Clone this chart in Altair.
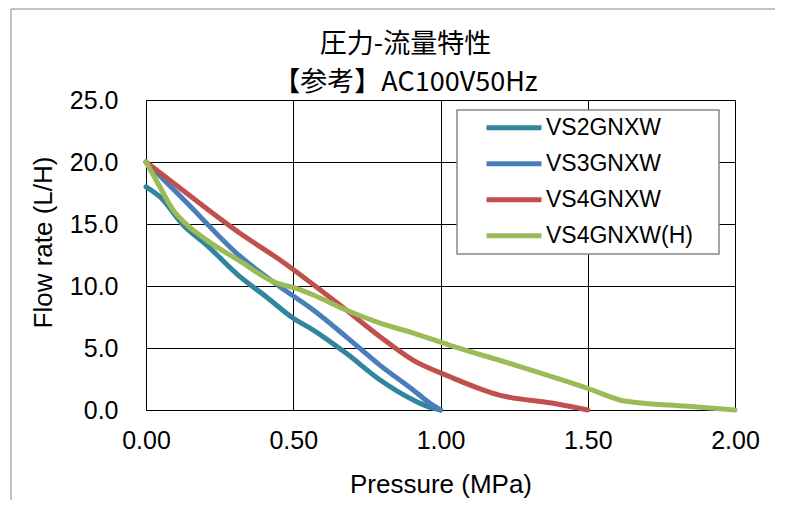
import altair as alt
import pandas as pd

series = ["VS2GNXW", "VS3GNXW", "VS4GNXW", "VS4GNXW(H)"]
colors = ["#31859C", "#4A7EBB", "#C0504D", "#9BBB59"]

vs2_p = [0.00, 0.047, 0.127, 0.206, 0.319, 0.41, 0.50, 0.568, 0.68, 0.795, 0.908, 0.96, 1.00]
vs2_f = [18.0, 17.2, 14.9, 13.3, 10.75, 9.1, 7.4, 6.45, 4.57, 2.42, 0.8, 0.25, 0.0]
vs3_p = [0.00, 0.127, 0.319, 0.455, 0.568, 0.68, 0.795, 0.908, 0.964, 1.00]
vs3_f = [20.0, 17.0, 12.4, 9.94, 8.06, 5.9, 3.6, 1.6, 0.54, 0.0]
vs4_p = [0.00, 0.093, 0.319, 0.455, 0.68, 0.795, 0.908, 1.03, 1.20, 1.383, 1.50]
vs4_f = [20.0, 18.3, 14.25, 12.1, 8.06, 5.9, 4.0, 2.7, 1.2, 0.54, 0.0]
vs4h_p = [0.00, 0.047, 0.093, 0.127, 0.206, 0.319, 0.432, 0.51, 0.568, 0.68, 0.795, 0.908, 1.03, 1.27, 1.50, 1.63, 1.84, 2.00]
vs4h_f = [20.0, 18.0, 16.1, 15.2, 13.7, 12.0, 10.35, 9.8, 9.27, 8.06, 7.0, 6.2, 5.24, 3.5, 1.75, 0.7, 0.3, 0.0]

x_ticks = [0.0, 0.5, 1.0, 1.5, 2.0]
y_ticks = [0.0, 5.0, 10.0, 15.0, 20.0, 25.0]

rows = []
for name, ps, fs in zip(series, [vs2_p, vs3_p, vs4_p, vs4h_p], [vs2_f, vs3_f, vs4_f, vs4h_f]):
    for i, (p, f) in enumerate(zip(ps, fs)):
        rows.append({"series": name, "pressure": p, "flow": f, "order": i})
df = pd.DataFrame(rows)

FONT = "Liberation Sans"

lines = alt.Chart(df).mark_line(strokeWidth=5, interpolate="monotone", strokeCap="round").encode(
    x=alt.X("pressure:Q", scale=alt.Scale(domain=[0, 2], nice=False),
            axis=alt.Axis(values=x_ticks, format=".2f", title="Pressure (MPa)",
                          labelFontSize=25, titleFontSize=26, labelFont=FONT, titleFont=FONT,
                          labelColor="#000", titleColor="#000", titleFontWeight="normal",
                          ticks=False, labelPadding=18, titlePadding=18, labelFlush=False,
                          gridColor="#000", gridOpacity=1, domainColor="#000")),
    y=alt.Y("flow:Q", scale=alt.Scale(domain=[0, 25], nice=False),
            axis=alt.Axis(values=y_ticks, format=".1f", title="Flow rate (L/H)",
                          labelFontSize=25, titleFontSize=26, labelFont=FONT, titleFont=FONT,
                          labelColor="#000", titleColor="#000", titleFontWeight="normal",
                          ticks=False, labelPadding=28, titlePadding=13, labelFlush=False,
                          titleY=142,
                          gridColor="#000", gridOpacity=1, domainColor="#000")),
    color=alt.Color("series:N", scale=alt.Scale(domain=series, range=colors),
                    legend=alt.Legend(title=None, orient="none", legendX=338, legendY=10,
                                      symbolType="stroke", symbolSize=3025, symbolStrokeWidth=5,
                                      labelFontSize=23, labelFont=FONT, labelColor="#000",
                                      padding=0, rowPadding=0, clipHeight=35.7, labelOffset=2)),
    order="order:Q",
)

frame = alt.Chart(pd.DataFrame({"a": [0]})).mark_rect(fill=None, stroke="#888", strokeWidth=1).encode(
    x=alt.value(-135), x2=alt.value(632), y=alt.value(-91), y2=alt.value(430)
)

legend_box = alt.Chart(pd.DataFrame({"a": [0]})).mark_rect(fill="#fff", stroke="#888", strokeWidth=1.5).encode(
    x=alt.value(311), x2=alt.value(573), y=alt.value(10), y2=alt.value(154)
)

chart = alt.layer(frame, lines, legend_box).properties(
    width=589, height=310,
    padding={"left": 138, "top": 92, "right": 40, "bottom": 90},
    autosize=alt.AutoSizeParams(type="none"),
    title=alt.TitleParams(text=["圧力-流量特性", "【参考】AC100V50Hz"], fontSize=27,
                          font="Noto Sans CJK JP", fontWeight="normal", color="#000",
                          anchor="middle", frame="group", dx=-35, dy=88, offset=0, lineHeight=38),
).configure_view(stroke=None)

chart.save("out.html", embed_options={"renderer": "svg", "actions": False})
